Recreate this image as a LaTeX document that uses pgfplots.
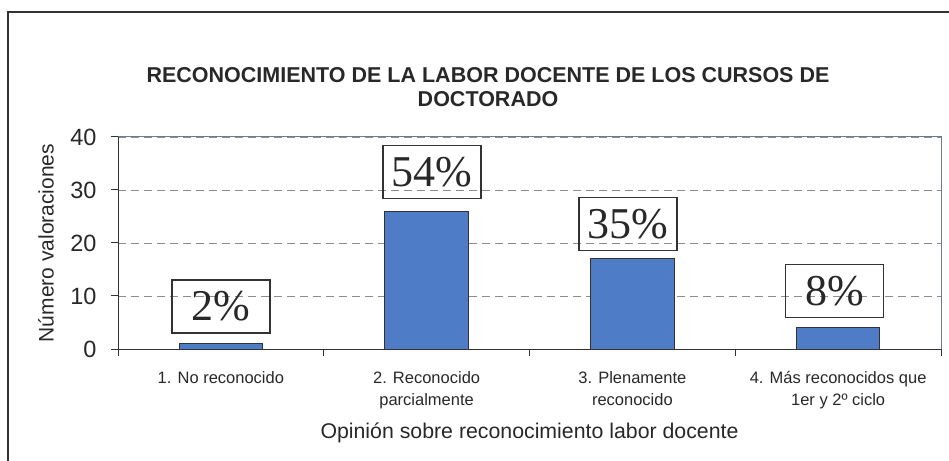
\documentclass[border=0pt]{standalone}
\usepackage{fontspec}
\setmainfont{Liberation Sans}
\newfontfamily\pctfont{Liberation Serif}
\usepackage{pgfplots}
\pgfplotsset{compat=1.18}
\definecolor{barblue}{RGB}{79,124,198}
\definecolor{edge}{RGB}{50,50,50}
\definecolor{txt}{RGB}{40,40,40}
\definecolor{gridc}{RGB}{140,140,140}
\definecolor{frameb}{RGB}{110,122,145}
\begin{document}
\begin{tikzpicture}
\useasboundingbox (0,0) rectangle (949bp,461bp);
\draw[edge, line width=1.2bp] (8bp,0bp) -- (8bp,449bp) -- (949bp,449bp);
\node[txt, font=\fontsize{21.5bp}{24bp}\selectfont\bfseries, align=center] at (488bp,374bp)
  {RECONOCIMIENTO DE LA LABOR DOCENTE DE LOS CURSOS DE\\DOCTORADO};
\begin{axis}[
  at={(118bp,112bp)}, anchor=south west,
  scale only axis, width=823bp, height=212bp,
  xmin=-0.5, xmax=3.5, ymin=0, ymax=40,
  axis x line*=bottom, axis y line*=left,
  axis line style={edge, line width=1bp},
  tick align=outside, major tick length=7bp,
  tick style={edge, line width=1bp},
  xtick={-0.5,0.5,1.5,2.5,3.5}, xticklabels={,,,,},
  extra x ticks={0,1,2,3},
  extra x tick labels={{1. No reconocido},{2. Reconocido\\parcialmente},{3. Plenamente\\reconocido},{4. Más reconocidos que\\1er y 2º ciclo}},
  extra x tick style={major tick length=0pt, grid=none,
    xticklabel style={align=center, font=\fontsize{16.5bp}{22bp}\selectfont, text=txt, yshift=-19bp}},
  ytick={0,10,20,30,40},
  yticklabel style={font=\fontsize{23.5bp}{25bp}\selectfont, text=txt, xshift=-11bp},
  /pgf/number format/assume math mode=true,
  ymajorgrids,
  grid style={gridc, line width=0.8bp, dash pattern=on 8bp off 5bp},
  ylabel={Número valoraciones},
  ylabel style={at={(rel axis cs:0,0.5)}, yshift=72bp, anchor=center, font=\fontsize{21bp}{22bp}\selectfont, text=txt},
  xlabel={Opinión sobre reconocimiento labor docente},
  xlabel style={at={(rel axis cs:0.5,0)}, yshift=-84bp, anchor=center, font=\fontsize{21.3bp}{24bp}\selectfont, text=txt},
  clip=false,
]
\draw[frameb, line width=1bp] (rel axis cs:0,1) -- (rel axis cs:1,1) -- (rel axis cs:1,0);
\addplot[ybar, bar shift=0pt, bar width=0.405, fill=barblue, draw=edge, line width=1bp]
  coordinates {(0,1) (1,26) (2,17) (3,4)};
\tikzset{pct/.style={draw=edge, line width=1.3bp, minimum width=98bp, minimum height=53bp, inner sep=0pt,
  font=\pctfont\fontsize{44bp}{44bp}\selectfont, text=txt, anchor=south}}
\node[pct] at (axis cs:0.0,2.9) {2\%};
\node[pct] at (axis cs:1.026,28.3) {54\%};
\node[pct] at (axis cs:1.979,18.4) {35\%};
\node[pct] at (axis cs:2.983,5.8) {8\%};
\end{axis}
\end{tikzpicture}
\end{document}
